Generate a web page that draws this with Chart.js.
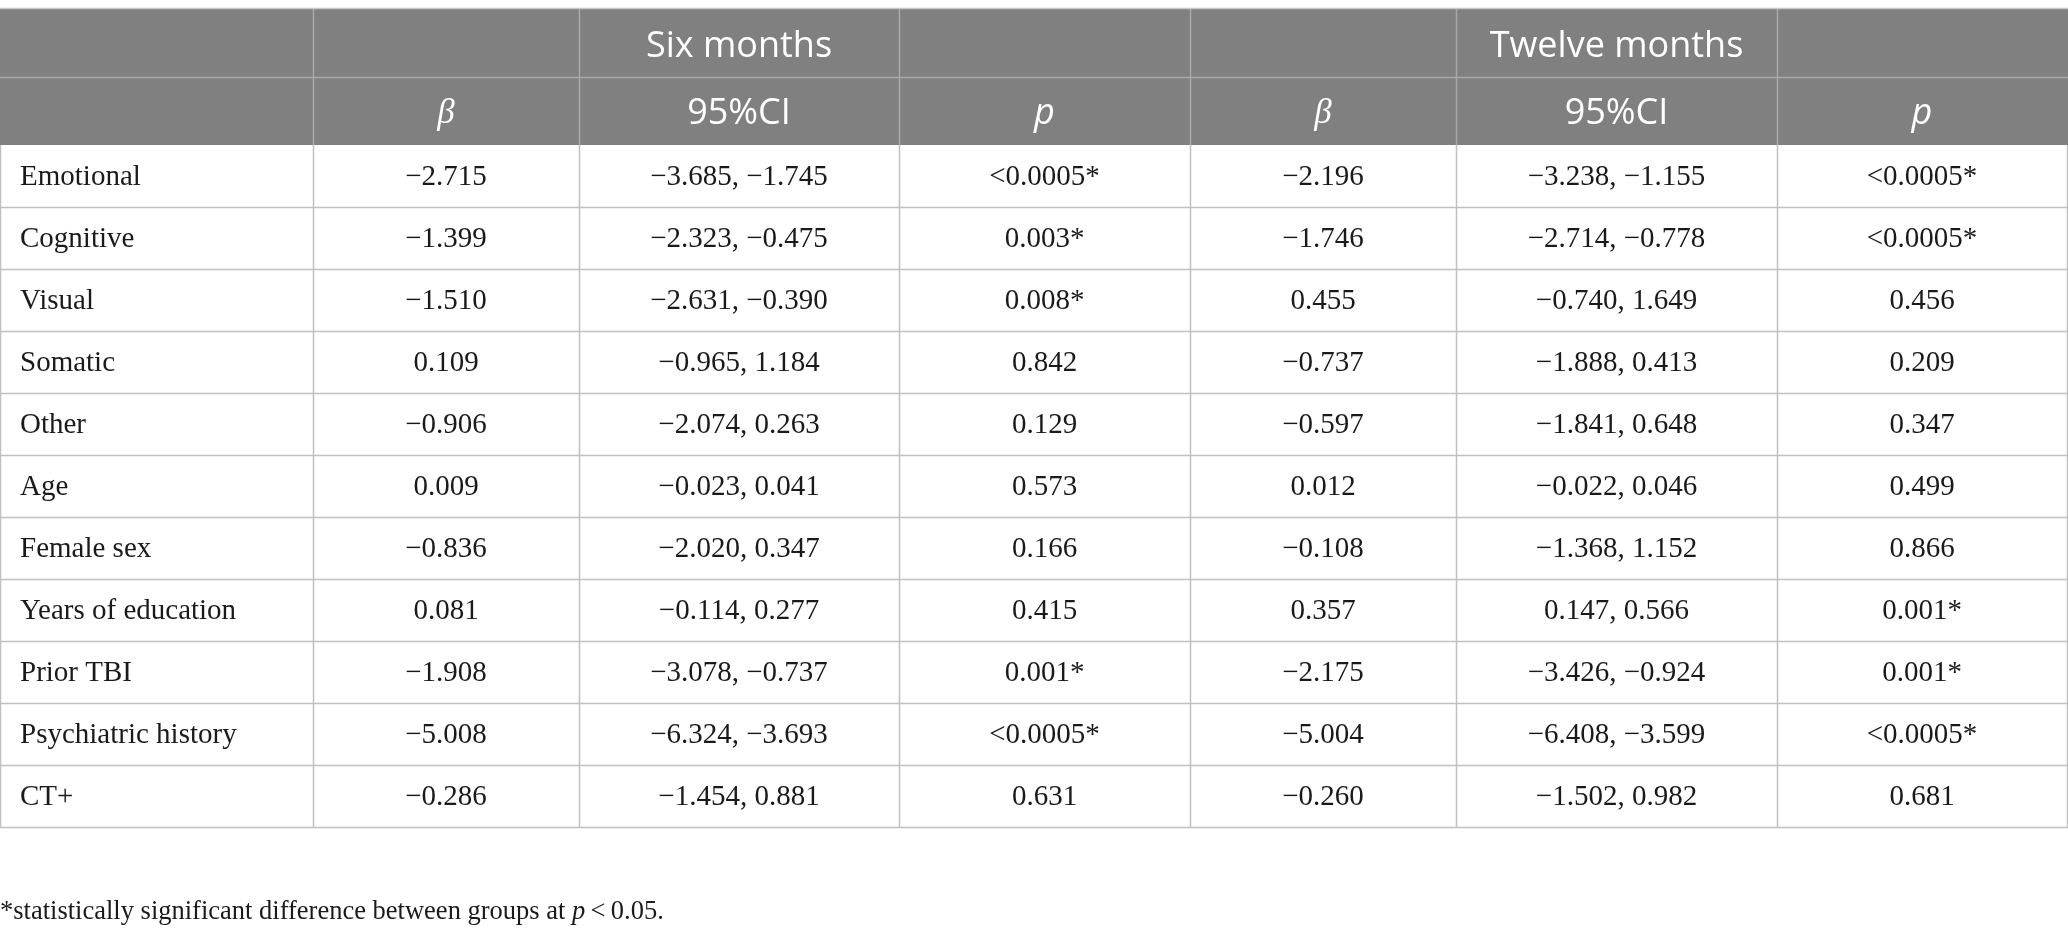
<!DOCTYPE html>
<html>
<head>
<meta charset="utf-8">
<script src="https://cdn.jsdelivr.net/npm/chart.js@4.4.1/dist/chart.umd.min.js"></script>
<style>
  html, body { margin: 0; padding: 0; background: #ffffff; }
  #wrap { position: relative; width: 2068px; height: 936px; }
</style>
</head>
<body>
<div id="wrap"><canvas id="tableChart"></canvas></div>
<script>
// table contents
const rowLabels = ["Emotional", "Cognitive", "Visual", "Somatic", "Other", "Age",
    "Female sex", "Years of education", "Prior TBI", "Psychiatric history", "CT+"];

const beta6 = [-2.715, -1.399, -1.510, 0.109, -0.906, 0.009, -0.836, 0.081, -1.908, -5.008, -0.286];
const ciLow6 = [-3.685, -2.323, -2.631, -0.965, -2.074, -0.023, -2.020, -0.114, -3.078, -6.324, -1.454];
const ciHigh6 = [-1.745, -0.475, -0.390, 1.184, 0.263, 0.041, 0.347, 0.277, -0.737, -3.693, 0.881];
const p6 = ["<0.0005*", "0.003*", "0.008*", "0.842", "0.129", "0.573", "0.166", "0.415", "0.001*", "<0.0005*", "0.631"];

const beta12 = [-2.196, -1.746, 0.455, -0.737, -0.597, 0.012, -0.108, 0.357, -2.175, -5.004, -0.260];
const ciLow12 = [-3.238, -2.714, -0.740, -1.888, -1.841, -0.022, -1.368, 0.147, -3.426, -6.408, -1.502];
const ciHigh12 = [-1.155, -0.778, 1.649, 0.413, 0.648, 0.046, 1.152, 0.566, -0.924, -3.599, 0.982];
const p12 = ["<0.0005*", "<0.0005*", "0.456", "0.209", "0.347", "0.499", "0.866", "0.001*", "0.001*", "<0.0005*", "0.681"];

const groupHeaders = ["", "", "Six months", "", "", "Twelve months", ""];
const colHeaders = ["", "β", "95%CI", "p", "β", "95%CI", "p"];

const footnote = "*statistically significant difference between groups at ";
const footnoteTail = "\u2009<\u20090.05.";

// layout (in scale units)
const colEdges = [0, 313, 579, 899, 1190, 1456, 1777, 2067];
const headerEdges = [8, 77, 145];
const rowHeight = 62;
const footnoteY = 911;

const fmt = v => v.toFixed(3).replace("-", "\u2212");

function cellText(r, c) {
    switch (c) {
        case 0: return rowLabels[r];
        case 1: return fmt(beta6[r]);
        case 2: return fmt(ciLow6[r]) + ", " + fmt(ciHigh6[r]);
        case 3: return p6[r];
        case 4: return fmt(beta12[r]);
        case 5: return fmt(ciLow12[r]) + ", " + fmt(ciHigh12[r]);
        case 6: return p12[r];
    }
    return "";
}

function headerFont(txt) {
    if (txt === "β") return 'italic 35px "Liberation Serif"';
    if (txt === "p") return 'italic 400 36px "Open Sans"';
    return '400 36px "Open Sans"';
}

const tablePlugin = {
    id: 'tablePlugin',
    afterDraw(chart) {
        const ctx = chart.ctx;
        const xs = chart.scales.x, ys = chart.scales.y;
        const X = v => xs.getPixelForValue(v);
        const Y = v => ys.getPixelForValue(v);
        const nCols = colEdges.length - 1;
        const rowEdges = [headerEdges[2]];
        rowLabels.forEach((_, i) => rowEdges.push(headerEdges[2] + rowHeight * (i + 1)));
        const bottom = rowEdges[rowEdges.length - 1];

        ctx.save();
        // header background
        ctx.fillStyle = '#808080';
        ctx.fillRect(X(colEdges[0]), Y(headerEdges[0]), X(colEdges[nCols]) - X(colEdges[0]) + 1, Y(headerEdges[2]) - Y(headerEdges[0]));

        // header grid
        ctx.lineWidth = 1.5;
        ctx.strokeStyle = '#a8a8a8';
        ctx.beginPath();
        ctx.moveTo(X(colEdges[0]), Y(headerEdges[1]) + 0.5);
        ctx.lineTo(X(colEdges[nCols]) + 1, Y(headerEdges[1]) + 0.5);
        for (let c = 1; c < nCols; c++) {
            ctx.moveTo(X(colEdges[c]) + 0.5, Y(headerEdges[0]));
            ctx.lineTo(X(colEdges[c]) + 0.5, Y(headerEdges[2]));
        }
        ctx.stroke();
        ctx.strokeStyle = '#c8c8c8';
        ctx.beginPath();
        ctx.moveTo(X(colEdges[0]), Y(headerEdges[0]) + 0.5);
        ctx.lineTo(X(colEdges[nCols]) + 1, Y(headerEdges[0]) + 0.5);
        ctx.stroke();

        // body grid
        ctx.strokeStyle = '#c0c0c0';
        ctx.lineWidth = 1.5;
        ctx.beginPath();
        for (let r = 1; r < rowEdges.length; r++) {
            ctx.moveTo(X(colEdges[0]), Y(rowEdges[r]) + 0.5);
            ctx.lineTo(X(colEdges[nCols]) + 1, Y(rowEdges[r]) + 0.5);
        }
        for (let c = 0; c <= nCols; c++) {
            ctx.moveTo(X(colEdges[c]) + 0.5, Y(headerEdges[2]));
            ctx.lineTo(X(colEdges[c]) + 0.5, Y(bottom) + 1);
        }
        ctx.stroke();

        // header text
        ctx.fillStyle = '#ffffff';
        ctx.textBaseline = 'middle';
        ctx.textAlign = 'center';
        for (let c = 0; c < nCols; c++) {
            const cx = (X(colEdges[c]) + X(colEdges[c + 1])) / 2;
            if (groupHeaders[c]) {
                ctx.font = headerFont(groupHeaders[c]);
                ctx.fillText(groupHeaders[c], cx, (Y(headerEdges[0]) + Y(headerEdges[1])) / 2 + 4);
            }
            if (colHeaders[c]) {
                ctx.font = headerFont(colHeaders[c]);
                ctx.fillText(colHeaders[c], cx, (Y(headerEdges[1]) + Y(headerEdges[2])) / 2 + 3);
            }
        }

        // body text
        ctx.fillStyle = '#1a1a1a';
        ctx.font = '29px "Liberation Serif"';
        for (let r = 0; r < rowLabels.length; r++) {
            const cy = (Y(rowEdges[r]) + Y(rowEdges[r + 1])) / 2 + 1;
            for (let c = 0; c < nCols; c++) {
                const txt = cellText(r, c);
                if (c === 0) {
                    ctx.textAlign = 'left';
                    ctx.fillText(txt, X(colEdges[0]) + 20, cy);
                } else {
                    ctx.textAlign = 'center';
                    ctx.fillText(txt, (X(colEdges[c]) + X(colEdges[c + 1])) / 2, cy);
                }
            }
        }

        // footnote
        ctx.textAlign = 'left';
        ctx.textBaseline = 'alphabetic';
        ctx.font = '26.5px "Liberation Serif"';
        let fx = X(0);
        const fy = Y(footnoteY) + 8;
        ctx.fillText(footnote, fx, fy);
        fx += ctx.measureText(footnote).width;
        ctx.font = 'italic 26.5px "Liberation Serif"';
        ctx.fillText("p", fx, fy);
        fx += ctx.measureText("p").width;
        ctx.font = '26.5px "Liberation Serif"';
        ctx.fillText(footnoteTail, fx, fy);
        ctx.restore();
    }
};

new Chart(document.getElementById('tableChart'), {
    type: 'scatter',
    data: { datasets: [{ data: [] }] },
    options: {
        responsive: true,
        maintainAspectRatio: false,
        animation: false,
        layout: { padding: 0 },
        plugins: { legend: { display: false }, tooltip: { enabled: false } },
        scales: {
            x: { type: 'linear', display: false, min: 0, max: 2068 },
            y: { type: 'linear', display: false, min: 0, max: 936, reverse: true }
        }
    },
    plugins: [tablePlugin]
});
</script>
</body>
</html>
